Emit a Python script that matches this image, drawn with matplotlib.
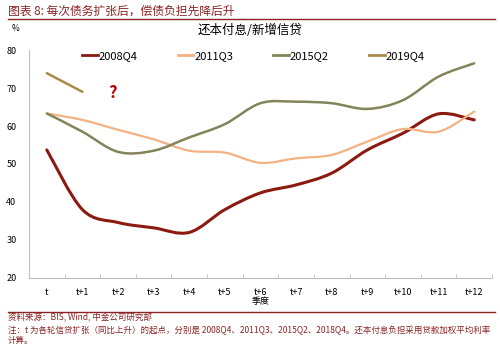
import matplotlib.pyplot as plt
from matplotlib.path import Path
from matplotlib.patches import PathPatch
from matplotlib.lines import Line2D

plt.rcParams['font.family'] = ['Noto Sans CJK SC', 'DejaVu Sans']

quarters = ['t', 't+1', 't+2', 't+3', 't+4', 't+5', 't+6',
            't+7', 't+8', 't+9', 't+10', 't+11', 't+12']
s2008q4 = [53.7, 38.0, 34.6, 33.2, 32.0, 38.0, 42.4, 44.5, 47.6, 53.7, 58.1, 63.2, 61.6]
s2011q3 = [63.3, 61.6, 59.0, 56.5, 53.5, 53.0, 50.3, 51.5, 52.4, 55.9, 59.2, 58.5, 63.8]
s2015q2 = [63.3, 58.5, 53.2, 53.5, 57.0, 60.5, 66.0, 66.4, 66.0, 64.5, 66.8, 73.0, 76.5]
s2019q4 = [73.9, 69.0]

series = [('2008Q4', s2008q4, '#8b1a10', 2.2),
          ('2011Q3', s2011q3, '#f4b183', 1.6),
          ('2015Q2', s2015q2, '#84845a', 1.8),
          ('2019Q4', s2019q4, '#a88b4c', 1.8)]


def smooth_path(ys):
    # Excel style smoothed line: cubic bezier through each point
    xs = list(range(len(ys)))
    pts = list(zip(xs, ys))
    if len(pts) < 3:
        return Path(pts)
    verts = [pts[0]]
    codes = [Path.MOVETO]
    n = len(pts)
    for i in range(n - 1):
        p0 = pts[i - 1] if i > 0 else pts[i]
        p1 = pts[i]
        p2 = pts[i + 1]
        p3 = pts[i + 2] if i + 2 < n else pts[i + 1]
        c1 = (p1[0] + (p2[0] - p0[0]) / 6, p1[1] + (p2[1] - p0[1]) / 6)
        c2 = (p2[0] - (p3[0] - p1[0]) / 6, p2[1] - (p3[1] - p1[1]) / 6)
        verts += [c1, c2, p2]
        codes += [Path.CURVE4] * 3
    return Path(verts, codes)


fig = plt.figure(figsize=(5, 3.58), dpi=100)
ax = fig.add_axes([0.058, 0.2235, 0.926, 0.6368])

handles = []
for name, vals, color, lw in series:
    patch = PathPatch(smooth_path(vals), facecolor='none', edgecolor=color,
                      lw=lw, capstyle='round')
    ax.add_patch(patch)
    handles.append(Line2D([], [], color=color, lw=2, label=name))

ax.set_xlim(-0.5, 12.5)
ax.set_ylim(20, 80)
ax.set_yticks(range(20, 81, 10))
ax.set_xticks(range(len(quarters)))
ax.set_xticklabels(quarters)
ax.set_xticks([i - 0.5 for i in range(len(quarters) + 1)], minor=True)
ax.tick_params(axis='x', which='major', length=0, labelsize=6.5, pad=7)
ax.tick_params(axis='x', which='minor', length=3, direction='in', color='#bfbfbf')
ax.tick_params(axis='y', length=0, labelsize=6.5, pad=9)
for side in ['top', 'right']:
    ax.spines[side].set_visible(False)
ax.spines['left'].set_color('#bfbfbf')
ax.spines['bottom'].set_color('#bfbfbf')
ax.set_xlabel('季度', fontsize=6.5, labelpad=0)

ax.legend(handles=handles, loc='center', bbox_to_anchor=(0.507, 0.843),
          bbox_transform=fig.transFigure, ncol=4, frameon=False, fontsize=8,
          handlelength=1.4, handletextpad=0.1, columnspacing=3.6)

ax.text(0.225, 0.74, '?', transform=fig.transFigure, color='#c00000',
        fontsize=12, fontweight='bold', ha='center', va='center')

dark = '#8b2323'
fig.text(0.016, 0.969, '图表 8: 每次债务扩张后，偿债负担先降后升', color=dark,
         fontsize=8.5, style='italic', ha='left', va='center')
fig.add_artist(Line2D([0.016, 0.99], [0.947, 0.947], color=dark, lw=1))
fig.text(0.024, 0.919, '%', fontsize=6, ha='left', va='center')
fig.text(0.5, 0.916, '还本付息/新增信贷', fontsize=9, ha='center', va='center')

fig.add_artist(Line2D([0.016, 0.99], [0.128, 0.128], color=dark, lw=1))
fig.text(0.016, 0.112, '资料来源：BIS, Wind, 中金公司研究部', color=dark,
         fontsize=6.1, style='italic', ha='left', va='center')
fig.text(0.016, 0.078, '注：t 为各轮信贷扩张（同比上升）的起点，分别是 2008Q4、2011Q3、2015Q2、2018Q4。还本付息负担采用贷款加权平均利率',
         color=dark, fontsize=6.1, style='italic', ha='left', va='center')
fig.text(0.016, 0.048, '计算。', color=dark, fontsize=6.1, style='italic',
         ha='left', va='center')

fig.savefig('out.png', dpi=100)
